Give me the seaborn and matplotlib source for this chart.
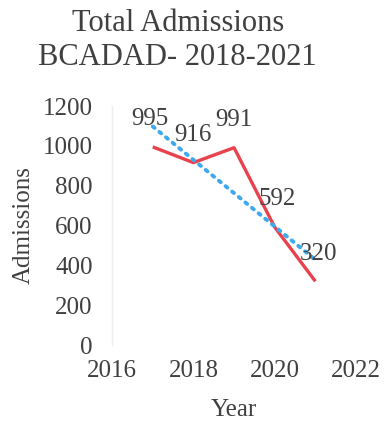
import numpy as np
import pandas as pd
import matplotlib
matplotlib.use("Agg")
import matplotlib.pyplot as plt
import seaborn as sns

years = [2017, 2018, 2019, 2020, 2021]
admissions = [995, 916, 991, 592, 320]
x_ticks = [2016, 2018, 2020, 2022]
y_ticks = [0, 200, 400, 600, 800, 1000, 1200]

sns.set_style("white")
plt.rcParams["font.family"] = ["Liberation Serif", "DejaVu Serif"]
text_color = "#404040"

df = pd.DataFrame({"Year": years, "Admissions": admissions})
slope, intercept = np.polyfit(years, admissions, 1)
df["Trend"] = slope * df["Year"] + intercept

fig = plt.figure(figsize=(3.84, 4.21), dpi=100)
ax = fig.add_axes([0.292, 0.1805, 0.635, 0.5675])

sns.lineplot(data=df, x="Year", y="Admissions", ax=ax, color="#E8424C",
             linewidth=2.4, solid_capstyle="butt")
sns.lineplot(data=df, x="Year", y="Trend", ax=ax, color="#3FA9EE",
             linewidth=2.8, linestyle=(0, (0.6, 1.6)),
             dash_capstyle="round")

offsets = [(-2, 12), (0, 12), (0, 12), (2, 12), (2, 12)]
for (xv, yv), (dx, dy) in zip(zip(years, admissions), offsets):
    ax.annotate(str(yv), (xv, yv), xytext=(dx, dy),
                textcoords="offset points", ha="center", va="bottom",
                fontsize=18, color=text_color)

ax.set_xlim(2016, 2022)
ax.set_ylim(0, 1200)
ax.set_xticks(x_ticks)
ax.set_yticks(y_ticks)
ax.tick_params(axis="y", labelsize=18, colors=text_color, length=0, pad=14)
ax.tick_params(axis="x", labelsize=18, colors=text_color, length=0, pad=11)
ax.set_xlabel("Year", fontsize=18, color=text_color, labelpad=12)
ax.set_ylabel("Admissions", fontsize=18, color=text_color, labelpad=6)
fig.suptitle("Total Admissions\nBCADAD- 2018-2021", x=0.463, y=0.978,
             va="top", fontsize=22, color=text_color, linespacing=1.2)

for side in ["top", "right", "bottom"]:
    ax.spines[side].set_visible(False)
ax.spines["left"].set_color("#eeeeee")
ax.spines["left"].set_linewidth(1)

fig.savefig("out.png", dpi=100)
